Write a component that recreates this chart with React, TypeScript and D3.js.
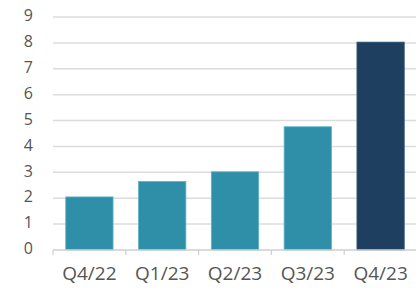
import React, { useRef, useEffect } from 'react';
import * as d3 from 'd3';

const categories = ['Q4/22', 'Q1/23', 'Q2/23', 'Q3/23', 'Q4/23'];
const values = [2.05, 2.65, 3.02, 4.76, 8.03];
const yTicks = [0, 1, 2, 3, 4, 5, 6, 7, 8, 9];

const width = 416;
const height = 288;

const App: React.FC = () => {
    const svgRef = useRef<SVGSVGElement>(null);

    useEffect(() => {
        if (!svgRef.current) return;
        const svg = d3.select(svgRef.current);
        svg.selectAll('*').remove();

        const margin = { top: 17, right: -1, bottom: 38, left: 53 };
        const innerWidth = width - margin.left - margin.right;
        const innerHeight = height - margin.top - margin.bottom;

        const g = svg.append('g')
            .attr('transform', `translate(${margin.left},${margin.top})`);

        const x = d3.scaleBand<string>()
            .domain(categories)
            .range([0, innerWidth])
            .paddingInner(0.35)
            .paddingOuter(0.175);

        const y = d3.scaleLinear()
            .domain([0, 9])
            .range([innerHeight, 0]);

        // gridlines
        g.selectAll('line.grid')
            .data(yTicks.filter(t => t > 0))
            .join('line')
            .attr('class', 'grid')
            .attr('x1', 0)
            .attr('x2', innerWidth)
            .attr('y1', d => y(d))
            .attr('y2', d => y(d))
            .attr('stroke', '#dcdcdc')
            .attr('stroke-width', 1.5);

        // y labels
        g.selectAll('text.ylab')
            .data(yTicks)
            .join('text')
            .attr('class', 'ylab')
            .attr('x', -20)
            .attr('y', d => y(d) - 1.5)
            .attr('dy', '0.36em')
            .attr('text-anchor', 'end')
            .attr('fill', '#555')
            .attr('font-family', 'Open Sans')
            .attr('font-size', 16)
            .text(d => d);

        // bars
        g.selectAll('rect')
            .data(values)
            .join('rect')
            .attr('x', (d, i) => x(categories[i])!)
            .attr('y', d => y(d))
            .attr('width', x.bandwidth())
            .attr('height', d => innerHeight - y(d))
            .attr('fill', (d, i) => i === values.length - 1 ? '#1e3f60' : '#2f8fa9')
            .attr('stroke', (d, i) => i === values.length - 1 ? '#3a5f80' : '#5fb3c8')
            .attr('stroke-width', 0.8);

        // x axis
        g.append('line')
            .attr('x1', 0)
            .attr('x2', innerWidth)
            .attr('y1', innerHeight)
            .attr('y2', innerHeight)
            .attr('stroke', '#cfcfcf')
            .attr('stroke-width', 1.5);

        g.selectAll('line.tick')
            .data(categories)
            .join('line')
            .attr('class', 'tick')
            .attr('x1', d => x(d)! - x.step() * x.paddingInner() / 2)
            .attr('x2', d => x(d)! - x.step() * x.paddingInner() / 2)
            .attr('y1', innerHeight)
            .attr('y2', innerHeight + 5)
            .attr('stroke', '#cfcfcf')
            .attr('stroke-width', 1.2);

        g.selectAll('text.xlab')
            .data(categories)
            .join('text')
            .attr('class', 'xlab')
            .attr('x', d => x(d)! + x.bandwidth() / 2)
            .attr('y', innerHeight + 30)
            .attr('text-anchor', 'middle')
            .attr('fill', '#555')
            .attr('font-family', 'Open Sans')
            .attr('font-size', 19)
            .text(d => d);
    }, []);

    return (
        <div style={{ position: 'absolute', left: 0, top: 0, width, height, background: '#fff' }}>
            <svg ref={svgRef} width={width} height={height} style={{ display: 'block' }} />
        </div>
    );
};

export default App;
